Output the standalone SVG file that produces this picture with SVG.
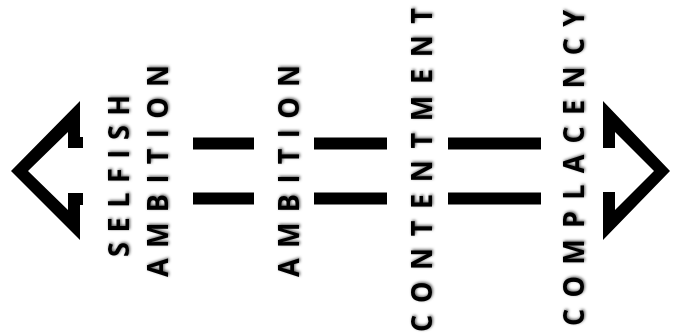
<svg xmlns="http://www.w3.org/2000/svg" width="673" height="333" viewBox="0 0 673 333">
<defs>
<filter id="soft" x="-20%" y="-20%" width="140%" height="140%">
<feGaussianBlur in="SourceAlpha" stdDeviation="1.5" result="b"/>
<feOffset in="b" dx="1" dy="0.5" result="o"/>
<feFlood flood-color="#000" flood-opacity="0.65"/>
<feComposite in2="o" operator="in" result="s"/>
<feMerge><feMergeNode in="s"/><feMergeNode in="SourceGraphic"/></feMerge>
</filter>
</defs>
<style>
.lbl{font-family:"Open Sans","DejaVu Sans",sans-serif;font-weight:bold;font-size:27px;fill:#000;filter:url(#soft)}
.dash{fill:#000}
.arr{fill:#000}
</style>
<rect width="673" height="333" fill="#fff"/>
<g id="connectors">
<rect class="dash" x="193" y="137.5" width="61" height="12"/>
<rect class="dash" x="193" y="192.5" width="61" height="12"/>
<rect class="dash" x="314" y="137.5" width="73" height="12"/>
<rect class="dash" x="314" y="192.5" width="73" height="12"/>
<rect class="dash" x="448" y="137.5" width="93" height="12"/>
<rect class="dash" x="448" y="192.5" width="93" height="12"/>
</g>
<g id="left-arrow">
<polygon class="arr" points="11,171 80,101 80,137 83,137 83,148 68,148 68,132 28,171 68,210 68,193 83,193 83,205 80,205 80,240"/>
</g>
<g id="right-arrow">
<polygon class="arr" points="603,101 670,171 603,240 603,192 615,192 615,210 654,171 615,132 615,148 603,148"/>
</g>
<g id="selfish-ambition">
<text class="lbl" textLength="162" lengthAdjust="spacing" transform="translate(129,257) rotate(-90) scale(1,1.08)">SELFISH</text>
<text class="lbl" textLength="212" lengthAdjust="spacing" transform="translate(168,277) rotate(-90) scale(1,1.08)">AMBITION</text>
</g>
<g id="ambition">
<text class="lbl" textLength="212" lengthAdjust="spacing" transform="translate(299,277) rotate(-90) scale(1,1.08)">AMBITION</text>
</g>
<g id="contentment">
<text class="lbl" textLength="324" lengthAdjust="spacing" transform="translate(432,332) rotate(-90) scale(1,1.08)">CONTENTMENT</text>
</g>
<g id="complacency">
<text class="lbl" textLength="316" lengthAdjust="spacing" transform="translate(584,326) rotate(-90) scale(1,1.08)">COMPLACENCY</text>
</g>
</svg>
